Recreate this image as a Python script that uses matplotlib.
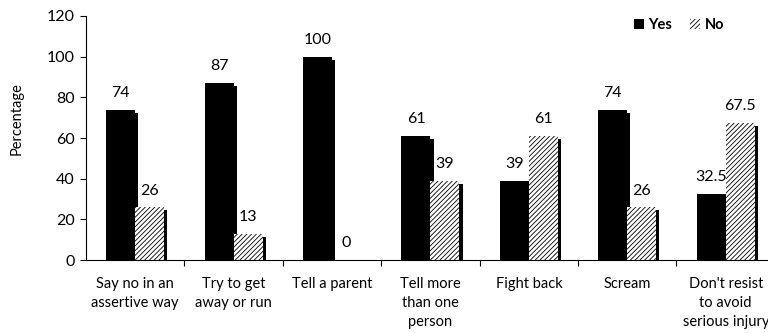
import matplotlib
matplotlib.use("Agg")
import matplotlib.pyplot as plt
import matplotlib.patheffects as pe
from matplotlib.patches import Patch
import numpy as np

categories = ["Say no in an\nassertive way", "Try to get\naway or run", "Tell a parent",
              "Tell more\nthan one\nperson", "Fight back", "Scream",
              "Don't resist\nto avoid\nserious injury"]
yes_vals = [74, 87, 100, 61, 39, 74, 32.5]
no_vals = [26, 13, 0, 39, 61, 26, 67.5]
yes_labels = ["74", "87", "100", "61", "39", "74", "32.5"]
no_labels = ["26", "13", "0", "39", "61", "26", "67.5"]
yticks = [0, 20, 40, 60, 80, 100, 120]

plt.rcParams['font.family'] = ['Lato', 'DejaVu Sans']
plt.rcParams['hatch.linewidth'] = 0.6

fig = plt.figure(figsize=(7.68, 3.33), dpi=100)
ax = fig.add_axes([0.112, 0.219, 0.897, 0.733])

x = np.arange(len(categories))
w = 0.295
shadow = [pe.SimplePatchShadow(offset=(2.2, -2.2), shadow_rgbFace='black', alpha=1.0), pe.Normal()]

b1 = ax.bar(x - w / 2, yes_vals, w, color='black', linewidth=0)
b2 = ax.bar(x + w / 2, no_vals, w, color='white', edgecolor='black', hatch='///////', linewidth=0)
for bars, vals in ((b1, yes_vals), (b2, no_vals)):
    for b, v in zip(bars, vals):
        if v > 0:
            b.set_path_effects(shadow)

for xi, v, s in zip(x - w / 2, yes_vals, yes_labels):
    ax.annotate(s, (xi, v), xytext=(0, 12), textcoords='offset points',
                ha='center', va='center', fontsize=11.5)
for xi, v, s in zip(x + w / 2, no_vals, no_labels):
    ax.annotate(s, (xi, v), xytext=(0, 12), textcoords='offset points',
                ha='center', va='center', fontsize=11.5)

ax.set_xlim(-0.5, len(categories) - 0.5)
ax.set_ylim(0, 120)
ax.set_yticks(yticks)
ax.tick_params(axis='y', labelsize=11.5, length=4, width=0.8, direction='out', pad=4)
ax.set_xticks(x)
ax.set_xticklabels(categories, fontsize=10.5, linespacing=1.45)
ax.tick_params(axis='x', which='major', length=0, pad=12)
ax.set_xticks(np.arange(0.5, len(categories) - 0.5, 1), minor=True)
ax.tick_params(axis='x', which='minor', length=4, width=0.8, direction='out')
for s in ('top', 'right'):
    ax.spines[s].set_visible(False)
for s in ('left', 'bottom'):
    ax.spines[s].set_linewidth(0.8)

ax.set_ylabel("Percentage", fontsize=10.5)
ax.yaxis.set_label_coords(-0.09, 0.58)

handles = [Patch(facecolor='black', label='Yes'),
           Patch(facecolor='white', edgecolor='black', hatch='///////', linewidth=0, label='No')]
leg = ax.legend(handles=handles, loc='upper right', bbox_to_anchor=(0.945, 1.045), ncol=2,
                frameon=False, handlelength=0.7, handleheight=0.7, handletextpad=0.3,
                columnspacing=1.2, prop={'weight': 'bold', 'size': 10.5})

fig.savefig("out.png", dpi=100)
